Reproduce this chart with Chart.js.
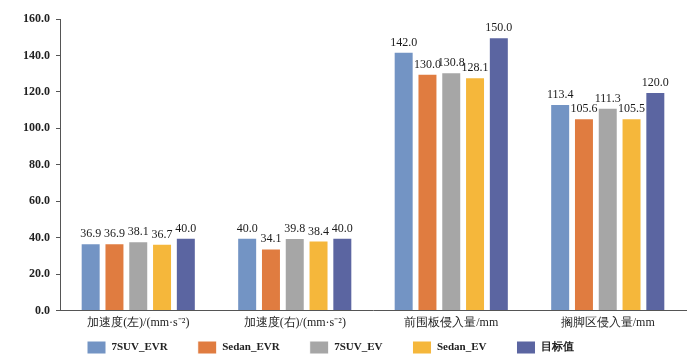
<!DOCTYPE html>
<html>
<head>
<meta charset="utf-8">
<script src="https://cdn.jsdelivr.net/npm/chart.js@4/dist/chart.umd.min.js"></script>
<style>
  html, body { margin: 0; padding: 0; background: #fff; }
  #wrap { width: 700px; height: 362px; }
</style>
</head>
<body>
<div id="wrap"><canvas id="barChart"></canvas></div>
<script>
const categories = ['加速度(左)/(mm·s⁻²)', '加速度(右)/(mm·s⁻²)', '前围板侵入量/mm', '搁脚区侵入量/mm'];
const seriesNames = ['7SUV_EVR', 'Sedan_EVR', '7SUV_EV', 'Sedan_EV', '目标值'];
const suvEvr = [36.9, 40.0, 142.0, 113.4];
const sedanEvr = [36.9, 34.1, 130.0, 105.6];
const suvEv = [38.1, 39.8, 130.8, 111.3];
const sedanEv = [36.7, 38.4, 128.1, 105.5];
const target = [40.0, 40.0, 150.0, 120.0];
const yTicks = [0, 20, 40, 60, 80, 100, 120, 140, 160];

const colors = ['#7394C4', '#E07C40', '#A6A6A6', '#F5B73B', '#5B65A1'];
const serif = '"Liberation Serif", "Times New Roman", serif';
const legendPad = 30;

// numbers above every bar
const valueLabels = {
  id: 'valueLabels',
  afterDatasetsDraw(chart) {
    const ctx = chart.ctx;
    ctx.save();
    ctx.font = '12px ' + serif;
    ctx.fillStyle = '#1a1a1a';
    ctx.textAlign = 'center';
    ctx.textBaseline = 'alphabetic';
    chart.data.datasets.forEach((ds, i) => {
      chart.getDatasetMeta(i).data.forEach((bar, j) => {
        ctx.fillText(ds.data[j].toFixed(1), bar.x, bar.y - 6);
      });
    });
    ctx.restore();
  }
};

// keep the legend short and place it like the original
const legendPlace = {
  id: 'legendPlace',
  afterInit(chart) {
    const lg = chart.legend;
    const origFit = lg.fit;
    lg.fit = function() {
      origFit.call(this);
      this.height = 27;
    };
  },
  afterLayout(chart) {
    const lg = chart.legend;
    const w = lg.width;
    lg.left = 87 - legendPad;
    lg.right = lg.left + w;
    lg.top = 341 - legendPad;
  }
};

const seriesData = [suvEvr, sedanEvr, suvEv, sedanEv, target];

new Chart(document.getElementById('barChart'), {
  type: 'bar',
  data: {
    labels: categories,
    datasets: seriesNames.map((name, i) => ({
      label: name,
      data: seriesData[i],
      backgroundColor: colors[i],
      borderColor: '#ffffff',
      borderWidth: 1,
      categoryPercentage: 0.76,
      barPercentage: 0.84
    }))
  },
  options: {
    responsive: true,
    maintainAspectRatio: false,
    animation: false,
    layout: { padding: { left: 17, right: 14, top: 19, bottom: 0 } },
    plugins: {
      tooltip: { enabled: false },
      legend: {
        position: 'bottom',
        align: 'start',
        labels: {
          boxWidth: 19,
          boxHeight: 13,
          padding: legendPad,
          color: '#222',
          font: { family: serif, size: 11, weight: 'bold' }
        }
      }
    },
    scales: {
      x: {
        grid: { display: false, drawTicks: false },
        border: { color: '#555', width: 1 },
        ticks: { color: '#222', font: { family: serif, size: 12 }, padding: 5, maxRotation: 0 }
      },
      y: {
        min: 0,
        max: 160,
        afterBuildTicks(axis) { axis.ticks = yTicks.map(v => ({ value: v })); },
        grid: { drawOnChartArea: false, drawTicks: true, tickLength: 4, color: '#555' },
        border: { color: '#555', width: 1 },
        ticks: {
          color: '#222',
          font: { family: serif, size: 12, weight: 'bold' },
          padding: 6,
          callback: v => v.toFixed(1)
        }
      }
    }
  },
  plugins: [valueLabels, legendPlace]
});
</script>
</body>
</html>
